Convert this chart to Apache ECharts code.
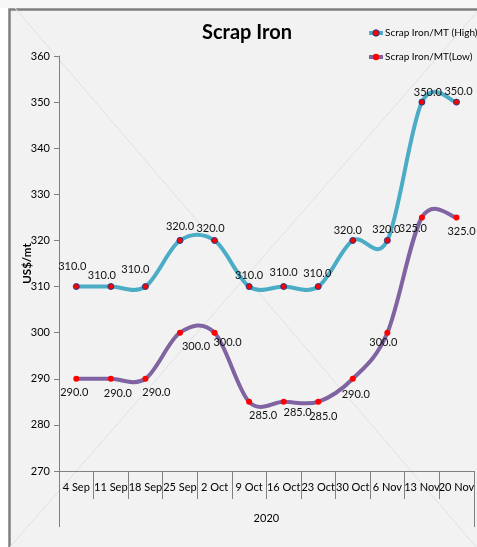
<!DOCTYPE html>
<html><head><meta charset="utf-8">
<script src="https://cdn.jsdelivr.net/npm/echarts@6/dist/echarts.min.js"></script>
<style>html,body{margin:0;padding:0;background:#fff}#c{width:477px;height:547px}</style>
</head><body><div id="c"></div>
<script>
var categories = ['4 Sep','11 Sep','18 Sep','25 Sep','2 Oct','9 Oct','16 Oct','23 Oct','30 Oct','6 Nov','13 Nov','20 Nov'];
var highValues = [310,310,310,320,320,310,310,310,320,320,350,350];
var lowValues  = [290,290,290,300,300,285,285,285,290,300,325,325];
var yTicks = [270,280,290,300,310,320,330,340,350,360];
var groupLabel = ['2020'];
var seriesNames = ['Scrap Iron/MT (High)','Scrap Iron/MT(Low)'];

var FONT = "Lato, 'Open Sans', sans-serif";
var HIGH_COLOR = '#4bacc6', LOW_COLOR = '#8064a2';
// label placements (style only)
var highOff = [[-4,-6],[-9,3],[-10,-3],[0,0],[-4,2],[0,3],[0,0],[-1,1],[-5,4],[-1,3],[6,4],[2,3]];
var lowOff  = [[-2,0],[7,1],[11,0],[16,0],[13,-4],[14,0],[14,-3],[5,1],[3,2],[-4,-4],[-9,-2],[5,1]];

function mk(vals, offs, pos){
  return vals.map(function(v,i){
    return {value:v, label:{position:pos, offset:offs[i]}};
  });
}
// Excel-like smoothed curve (Catmull-Rom) through points placed by the axes
function curveSeries(vals, color){
  return {
    type:'custom', name:'_curve_'+color, silent:true, z:1, coordinateSystem:'cartesian2d',
    data:[[0, vals[0]]],
    renderItem:function(params, api){
      var pts = vals.map(function(v,i){return api.coord([i,v]);});
      var n = pts.length;
      var d = 'M' + pts[0][0] + ' ' + pts[0][1];
      for (var i=0;i<n-1;i++){
        var p0 = pts[i-1] || pts[i], p1 = pts[i], p2 = pts[i+1], p3 = pts[i+2] || pts[i+1];
        var c1x = p1[0] + (p2[0]-p0[0])/6, c1y = p1[1] + (p2[1]-p0[1])/6;
        var c2x = p2[0] - (p3[0]-p1[0])/6, c2y = p2[1] - (p3[1]-p1[1])/6;
        d += ' C' + c1x + ' ' + c1y + ' ' + c2x + ' ' + c2y + ' ' + p2[0] + ' ' + p2[1];
      }
      return {type:'path', shape:{pathData:d}, style:{fill:'none', stroke:color, lineWidth:4, lineCap:'round', lineJoin:'round'}};
    }
  };
}

var labelStyle = {show:true, fontFamily:FONT, fontSize:11, color:'#111', formatter:function(p){return p.value.toFixed(1);}};

var chart = echarts.init(document.getElementById('c'), null, {renderer:'canvas'});
chart.setOption({
  animation:false,
  backgroundColor:'#ffffff',
  textStyle:{fontFamily:FONT},
  graphic:[
    {type:'rect', z:-10, shape:{x:0,y:0,width:477,height:8}, style:{fill:'#f7f7f7'}},
    {type:'rect', z:-10, shape:{x:9.5,y:9.5,width:480,height:550}, style:{fill:'#f2f2f2', stroke:'#7f7f7f', lineWidth:2.5}},
    {type:'line', z:-9, shape:{x1:15,y1:8,x2:477,y2:548}, style:{stroke:'#e0e0e0', lineWidth:1}},
    {type:'line', z:-9, shape:{x1:477,y1:12,x2:10,y2:547}, style:{stroke:'#e0e0e0', lineWidth:1}},
    {type:'text', z:5, x:247, y:33, style:{text:'Scrap Iron', x:0, y:0, textAlign:'center', textVerticalAlign:'middle', font:"bold 20px Lato, 'Open Sans', sans-serif", fill:'#000'}}
  ],
  legend:{orient:'vertical', left:367, top:28, padding:0, itemGap:14, itemWidth:14, itemHeight:8,
    textStyle:{fontFamily:FONT, fontSize:10, color:'#000', padding:[0,0,0,-3]},
    data:[
      {name:seriesNames[0], lineStyle:{color:HIGH_COLOR, width:4, opacity:1}, itemStyle:{color:'#ff0000', borderColor:'#1f3d8a', borderWidth:1}},
      {name:seriesNames[1], lineStyle:{color:LOW_COLOR, width:4, opacity:1}, itemStyle:{color:'#ff0000', borderWidth:0}}
    ]},
  grid:{left:59, top:56, right:-3, bottom:76, containLabel:false},
  xAxis:[
    {type:'category', data:categories, boundaryGap:true,
     axisLine:{lineStyle:{color:'#808080'}},
     axisTick:{show:true, length:28, lineStyle:{color:'#808080'}},
     axisLabel:{fontFamily:FONT, fontSize:11, color:'#000', margin:11, interval:0}},
    {type:'category', data:groupLabel, position:'bottom', boundaryGap:true,
     axisLine:{show:false},
     axisTick:{show:true, length:56, lineStyle:{color:'#808080'}},
     axisLabel:{fontFamily:FONT, fontSize:11, color:'#000', margin:42}}
  ],
  yAxis:{type:'value', min:yTicks[0], max:yTicks[yTicks.length-1], interval:10,
    name:'US$/mt', nameLocation:'middle', nameGap:26, nameRotate:90, nameMoveOverlap:false,
    nameTextStyle:{fontFamily:FONT, fontSize:11.5, fontWeight:'bold', color:'#000'},
    axisLine:{show:true, lineStyle:{color:'#808080'}},
    axisTick:{show:true, length:5, lineStyle:{color:'#808080'}},
    splitLine:{show:false},
    axisLabel:{fontFamily:FONT, fontSize:11, color:'#000', margin:9}},
  series:[
    curveSeries(highValues, HIGH_COLOR),
    curveSeries(lowValues, LOW_COLOR),
    {name:seriesNames[0], type:'line', z:3, data:mk(highValues, highOff, 'top'),
     lineStyle:{opacity:0}, itemStyle:{color:'#ff0000', borderColor:'#1f3d8a', borderWidth:1},
     symbol:'circle', symbolSize:6, label:labelStyle},
    {name:seriesNames[1], type:'line', z:3, data:mk(lowValues, lowOff, 'bottom'),
     lineStyle:{opacity:0}, itemStyle:{color:'#ff0000', borderWidth:0},
     symbol:'circle', symbolSize:6, label:labelStyle}
  ]
});
</script></body></html>
